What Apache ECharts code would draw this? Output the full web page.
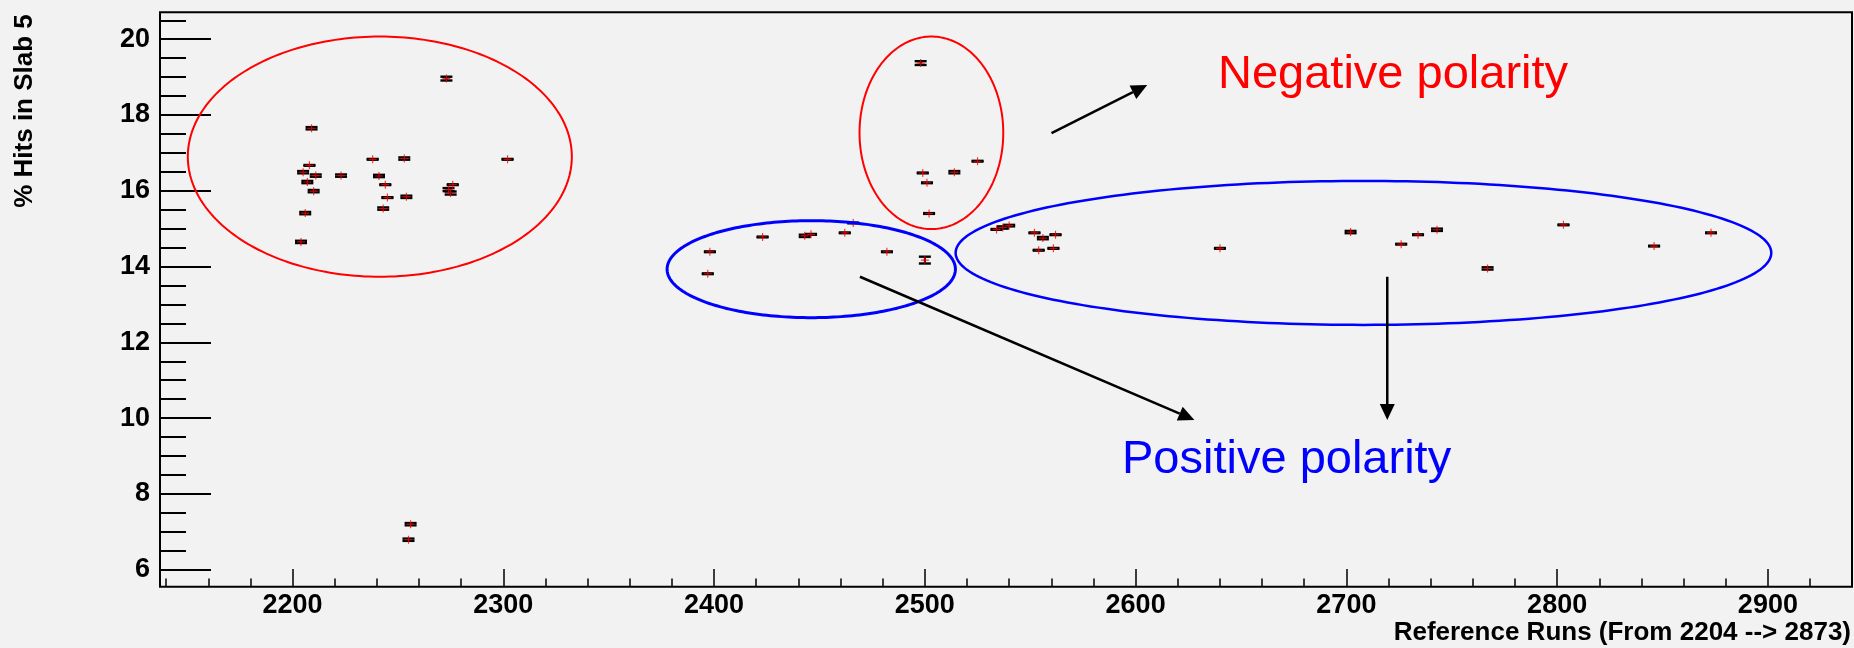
<!DOCTYPE html>
<html>
<head>
<meta charset="utf-8">
<script src="https://cdn.jsdelivr.net/npm/echarts@6/dist/echarts.min.js"></script>
<style>
  html, body { margin: 0; padding: 0; background: #f2f2f2; }
  #chart { width: 1854px; height: 648px; }
</style>
</head>
<body>
<div id="chart"></div>
<script>
// Reference run numbers, percentage of hits in slab 5 and its uncertainty
const runs = [
  2204, 2205, 2206, 2207, 2208, 2209, 2210, 2211, 2223, 2238,
  2241, 2243, 2244, 2245, 2253, 2254, 2255, 2256, 2273, 2274,
  2275, 2276, 2302,
  2498, 2499, 2501, 2502, 2514, 2525,
  2397, 2398, 2423, 2443, 2446, 2462, 2466, 2482, 2500,
  2534, 2537, 2540, 2552, 2554, 2556, 2561, 2562, 2640, 2702,
  2726, 2734, 2743, 2767, 2803, 2846, 2873
];
const hits = [
  14.65, 16.49, 15.41, 16.23, 16.67, 17.65, 15.99, 16.40, 16.40, 16.83,
  16.39, 15.53, 16.16, 15.82, 16.85, 15.84, 6.79, 7.20, 18.96, 16.03,
  15.94, 16.16, 16.83,
  19.37, 16.47, 16.21, 15.40, 16.49, 16.78,
  13.81, 14.39, 14.78, 14.81, 14.85, 14.89, 15.15, 14.39, 14.17,
  14.98, 15.03, 15.08, 14.89, 14.43, 14.75, 14.48, 14.84, 14.48, 14.91,
  14.59, 14.84, 14.97, 13.95, 15.10, 14.54, 14.89
];
const hitErrors = [
  0.03, 0.03, 0.03, 0.03, 0.01, 0.03, 0.03, 0.03, 0.03, 0.01,
  0.03, 0.03, 0.01, 0.01, 0.03, 0.03, 0.03, 0.03, 0.05, 0.04,
  0.04, 0.01, 0.01,
  0.05, 0.01, 0.01, 0.01, 0.03, 0.01,
  0.01, 0.01, 0.01, 0.03, 0.01, 0.01, 0.01, 0.01, 0.09,
  0.01, 0.03, 0.02, 0.01, 0.01, 0.03, 0.01, 0.01, 0.01, 0.03,
  0.01, 0.01, 0.03, 0.03, 0.01, 0.01, 0.01
];

// Axis ranges and tick labels
const xRange = [2137.1, 2939.9];
const yRange = [5.55, 20.71];
const xTickValues = [2200, 2300, 2400, 2500, 2600, 2700, 2800, 2900];
const yTickValues = [6, 8, 10, 12, 14, 16, 18, 20];

// Minor tick positions: every 20 runs on x, every 0.5 % on y
const xMinorValues = [];
for (let v = 2140; v <= 2920; v += 20) if (v % 100 !== 0) xMinorValues.push(v);
const yMinorValues = [];
for (let v = 6.5; v <= 20.5; v += 0.5) if (v % 2 !== 0) yMinorValues.push(v);

// Hand-drawn annotations in data units: [centre run, centre %, half-width, half-height]
const groupEllipses = [
  [2241.4, 16.90, 91.1, 3.17],
  [2503.1, 17.53, 34.1, 2.54],
  [2446.1, 13.93, 68.4, 1.28],
  [2708.1, 14.36, 193.5, 1.90]
];
const ellipseColors = ['#ff0000', '#ff0000', '#0000ff', '#0000ff'];
const ellipseWidths = [2, 2, 3, 2.5];

// Arrows in data units: [from run, from %, to run, to %]
const pointerArrows = [
  [2560.1, 17.52, 2605.5, 18.79],
  [2469.2, 13.73, 2627.9, 9.95],
  [2719.4, 13.73, 2719.4, 9.95]
];

const FONT = '"Liberation Sans", Arial, Helvetica, sans-serif';
const chart = echarts.init(document.getElementById('chart'));

const tickLabelStyle = {
  color: '#000', fontFamily: FONT, fontWeight: 'bold', fontSize: 27,
  formatter: (v) => String(v)
};

function renderErrorBar(params, api) {
  const x = api.value(0), y = api.value(1), e = api.value(2);
  const top = api.coord([x, y + e]);
  const bot = api.coord([x, y - e]);
  const half = 6;
  const stroke = { stroke: '#000', lineWidth: 2.4 };
  return {
    type: 'group',
    children: [
      { type: 'line', shape: { x1: top[0], y1: top[1], x2: bot[0], y2: bot[1] }, style: { stroke: '#000', lineWidth: 2 } },
      { type: 'line', shape: { x1: top[0] - half, y1: top[1], x2: top[0] + half, y2: top[1] }, style: stroke },
      { type: 'line', shape: { x1: bot[0] - half, y1: bot[1], x2: bot[0] + half, y2: bot[1] }, style: stroke }
    ]
  };
}

function renderEllipse(params, api) {
  const cx = api.value(0), cy = api.value(1), rx = api.value(2), ry = api.value(3);
  const c = api.coord([cx, cy]);
  const e = api.coord([cx + rx, cy + ry]);
  const a = e[0] - c[0], b = c[1] - e[1];
  const pts = [];
  for (let k = 0; k < 240; k++) {
    const t = (k / 240) * Math.PI * 2;
    pts.push([c[0] + a * Math.cos(t), c[1] + b * Math.sin(t)]);
  }
  return {
    type: 'polygon',
    shape: { points: pts },
    style: { fill: 'none', stroke: ellipseColors[params.dataIndex], lineWidth: ellipseWidths[params.dataIndex] }
  };
}

function renderArrow(params, api) {
  const p0 = api.coord([api.value(0), api.value(1)]);
  const p1 = api.coord([api.value(2), api.value(3)]);
  const dx = p1[0] - p0[0], dy = p1[1] - p0[1];
  const len = Math.sqrt(dx * dx + dy * dy);
  const ux = dx / len, uy = dy / len;
  const headLen = 16, headHalf = 7.5;
  const bx = p1[0] - ux * headLen, by = p1[1] - uy * headLen;
  return {
    type: 'group',
    children: [
      { type: 'line', shape: { x1: p0[0], y1: p0[1], x2: bx, y2: by }, style: { stroke: '#000', lineWidth: 2.5 } },
      { type: 'polygon', shape: { points: [
          [p1[0], p1[1]],
          [bx - uy * headHalf, by + ux * headHalf],
          [bx + uy * headHalf, by - ux * headHalf]
        ] }, style: { fill: '#000' } }
    ]
  };
}

chart.setOption({
  backgroundColor: '#f2f2f2',
  animation: false,
  grid: {
    left: 160, right: 2, top: 12.3, bottom: 61.3,
    show: true, backgroundColor: '#f2f2f2', borderColor: '#000', borderWidth: 2,
    outerBoundsMode: 'none'
  },
  xAxis: [
    {
      type: 'value', min: xRange[0], max: xRange[1], position: 'bottom',
      axisLine: { show: false },
      splitLine: { show: false },
      axisTick: { show: true, inside: true, length: 17.7, lineStyle: { color: '#000', width: 1.5 }, customValues: xTickValues },
      axisLabel: Object.assign({ margin: 5, customValues: xTickValues }, tickLabelStyle)
    },
    {
      type: 'value', min: xRange[0], max: xRange[1], position: 'bottom', offset: 0,
      axisLine: { show: false },
      splitLine: { show: false },
      axisTick: { show: true, inside: true, length: 8.3, lineStyle: { color: '#000', width: 1.5 }, customValues: xMinorValues },
      axisLabel: { show: false }
    }
  ],
  yAxis: [
    {
      type: 'value', min: yRange[0], max: yRange[1], position: 'left',
      axisLine: { show: false },
      splitLine: { show: false },
      axisTick: { show: true, inside: true, length: 51, lineStyle: { color: '#000', width: 2 }, customValues: yTickValues },
      axisLabel: Object.assign({ margin: 10, customValues: yTickValues }, tickLabelStyle)
    },
    {
      type: 'value', min: yRange[0], max: yRange[1], position: 'left', offset: 0,
      axisLine: { show: false },
      splitLine: { show: false },
      axisTick: { show: true, inside: true, length: 26, lineStyle: { color: '#000', width: 2 }, customValues: yMinorValues },
      axisLabel: { show: false }
    }
  ],
  series: [
    {
      type: 'custom', name: 'errors', silent: true, z: 3,
      renderItem: renderErrorBar,
      encode: { x: 0, y: 1 },
      data: runs.map((r, i) => [r, hits[i], hitErrors[i]])
    },
    {
      type: 'scatter', name: 'hits', silent: true, z: 4,
      symbol: 'path://M3,0h1v3h3v1h-3v3h-1v-3h-3v-1h3z',
      symbolSize: 8,
      itemStyle: { color: '#ff0000' },
      data: runs.map((r, i) => [r, hits[i]])
    },
    {
      type: 'custom', name: 'groups', silent: true, z: 5,
      renderItem: renderEllipse,
      encode: { x: 0, y: 1 },
      data: groupEllipses
    },
    {
      type: 'custom', name: 'pointers', silent: true, z: 5,
      renderItem: renderArrow,
      encode: { x: 0, y: 1 },
      data: pointerArrows
    }
  ],
  graphic: [
    {
      type: 'text', x: 25, y: 111, rotation: Math.PI / 2, silent: true,
      style: { text: '% Hits in Slab 5', font: 'bold 26px ' + FONT, fill: '#000',
               align: 'center', verticalAlign: 'middle', textAlign: 'center', textVerticalAlign: 'middle' }
    },
    {
      type: 'text', x: 1851, y: 632.5, silent: true,
      style: { text: 'Reference Runs (From 2204 --> 2873)', font: 'bold 26px ' + FONT, fill: '#000',
               align: 'right', verticalAlign: 'middle', textAlign: 'right', textVerticalAlign: 'middle' }
    },
    {
      type: 'text', x: 1218, y: 75.5, silent: true,
      style: { text: 'Negative polarity', font: '47px ' + FONT, fill: '#ff0000',
               align: 'left', verticalAlign: 'middle', textAlign: 'left', textVerticalAlign: 'middle' }
    },
    {
      type: 'text', x: 1122, y: 460, silent: true,
      style: { text: 'Positive polarity', font: '47px ' + FONT, fill: '#0000ff',
               align: 'left', verticalAlign: 'middle', textAlign: 'left', textVerticalAlign: 'middle' }
    }
  ]
});
</script>
</body>
</html>
